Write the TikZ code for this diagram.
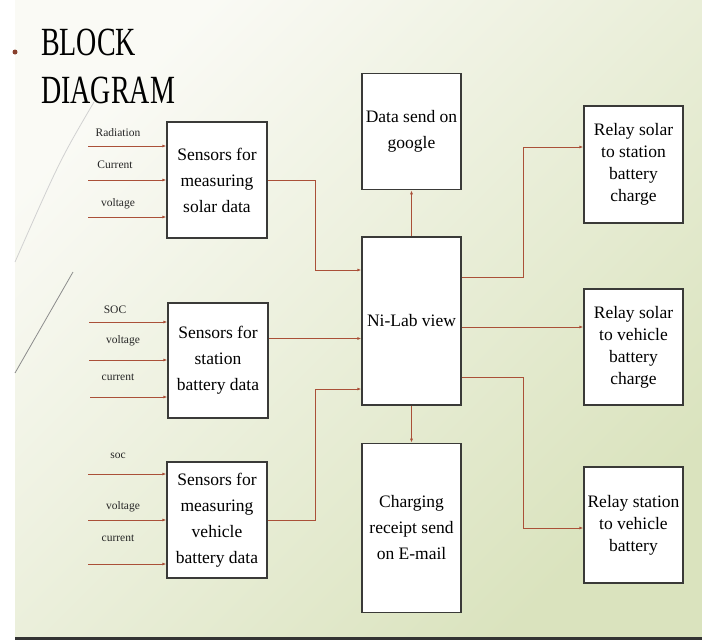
\documentclass[tikz,border=0pt]{standalone}
\usepackage{fontspec}
\setmainfont{Liberation Serif}
\usepackage{xcolor}
\usetikzlibrary{arrows.meta,positioning}

\definecolor{wire}{RGB}{170,80,56}
\definecolor{bgA}{RGB}{250,250,245}
\definecolor{bgB}{RGB}{218,227,190}
\definecolor{edge}{RGB}{58,58,56}

\begin{document}
\begin{tikzpicture}[
    x=1pt, y=-1pt,
    font=\fontsize{17.5}{26}\selectfont,
    blk/.style={draw=edge, line width=1.3pt, fill=white, align=center,
                minimum width=100pt, minimum height=116pt, inner sep=0pt},
    relay/.style={blk, font=\fontsize{17.5}{22}\selectfont},
    lbl/.style={font=\fontsize{11.5}{13}\selectfont, text=black!85, inner sep=1pt},
    flow/.style={-{Latex[length=4pt,width=3pt]}, line width=0.9pt, draw=wire}
]
\useasboundingbox (0,0) rectangle (702,643);
% slide background
\fill[white] (0,0) rectangle (702,643);
\shade[top color=bgA, bottom color=bgB, shading angle=45] (15,0) rectangle (702,636);
\draw[black!80, line width=3pt] (15,638) -- (702,638);
\fill[wire!80!black] (15,52) circle (2.5pt);
\draw[black!18, line width=0.8pt] (94,102) .. controls (60,160) .. (15,262);
\draw[black!45, line width=0.8pt] (73,272) -- (15,373);

% title
\node[anchor=base west, inner sep=0pt, font=\fontsize{40}{48}\selectfont] (title1) at (41,55) {\scalebox{0.7}[1]{BLOCK}};
\node[anchor=base west, inner sep=0pt, font=\fontsize{40}{48}\selectfont] (title2) at (41,103) {\scalebox{0.7}[1]{DIAGRAM}};

% sensor blocks
\node[blk] (solar) at (217,180) {Sensors for\\measuring\\solar data};
\node[blk, minimum height=115pt] (station) at (218,360.5) {Sensors for\\station\\battery data};
\node[blk] (vehicle) at (217,520) {Sensors for\\measuring\\vehicle\\battery data};

% centre column
\node[blk, minimum width=99pt, minimum height=168pt] (nilab) at (411.5,321) {Ni-Lab view};
\node[blk, minimum width=99pt, above=46pt of nilab] (google) {Data send on\\google};
\node[blk, minimum width=99pt, minimum height=169pt, below=37pt of nilab] (email) {Charging\\receipt send\\on E-mail};

% relays
\node[relay, minimum width=99pt, minimum height=117pt] (relay1) at (633.5,164.5) {Relay solar\\to station\\battery\\charge};
\node[relay, minimum width=99pt] (relay2) at (633.5,347) {Relay solar\\to vehicle\\battery\\charge};
\node[relay, minimum width=99pt] (relay3) at (633.5,525) {Relay station\\to vehicle\\battery};

% inputs
\coordinate (radin) at (88,146);
\coordinate (curin) at (88,180);
\coordinate (volin) at (88,217);
\coordinate (socin) at (89,322);
\coordinate (svolin) at (89,360);
\coordinate (scurin) at (90,397);
\coordinate (vsocin) at (88,474);
\coordinate (vvolin) at (88,520);
\coordinate (vcurin) at (88,564);

\node[lbl] (radlbl) at (118,133) {Radiation};
\node[lbl] (curlbl) at (115,165) {Current};
\node[lbl] (vollbl) at (118,204) {voltage};
\node[lbl] (soclbl) at (115,310) {SOC};
\node[lbl] (svollbl) at (123,341) {voltage};
\node[lbl] (scurlbl) at (118,377) {current};
\node[lbl] (vsoclbl) at (118,456) {soc};
\node[lbl] (vvollbl) at (123,507) {voltage};
\node[lbl] (vcurlbl) at (118,538) {current};

\draw[flow] (radin) -- (radin -| solar.west);
\draw[flow] (curin) -- (curin -| solar.west);
\draw[flow] (volin) -- (volin -| solar.west);
\draw[flow] (socin) -- (socin -| station.west);
\draw[flow] (svolin) -- (svolin -| station.west);
\draw[flow] (scurin) -- (scurin -| station.west);
\draw[flow] (vsocin) -- (vsocin -| vehicle.west);
\draw[flow] (vvolin) -- (vvolin -| vehicle.west);
\draw[flow] (vcurin) -- (vcurin -| vehicle.west);

% into Ni-Lab
\draw[flow] (solar.east) -- ++(48,0) |- ([yshift=51pt]nilab.west);
\draw[flow] ([yshift=22pt]station.east) -- ([yshift=22pt]station.east -| nilab.west);
\draw[flow] (vehicle.east) -- ++(48,0) |- ([yshift=-68pt]nilab.west);

% out of Ni-Lab
\draw[flow] (nilab.north) -- (google.south);
\draw[flow] (nilab.south) -- (email.north);
\draw[flow] ([yshift=44pt]nilab.east) -- ++(62,0) |- ([yshift=17.5pt]relay1.west);
\draw[flow] ([yshift=-6pt]nilab.east) -- ([yshift=-6pt]nilab.east -| relay2.west);
\draw[flow] ([yshift=-56pt]nilab.east) -- ++(62,0) |- ([yshift=-3pt]relay3.west);
\end{tikzpicture}
\end{document}
